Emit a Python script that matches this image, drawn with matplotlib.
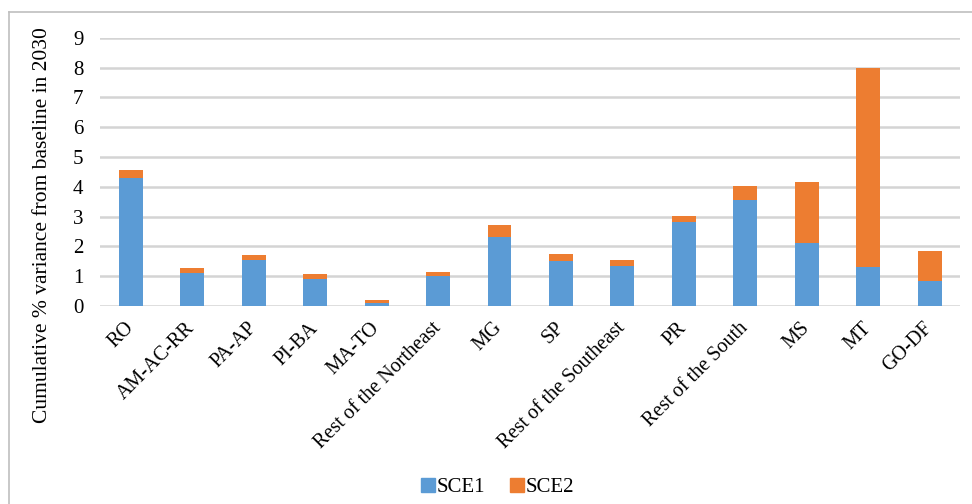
import numpy as np
from matplotlib import pyplot as plt
from matplotlib.lines import Line2D

regions = ["RO", "AM-AC-RR", "PA-AP", "PI-BA", "MA-TO", "Rest of the Northeast",
           "MG", "SP", "Rest of the Southeast", "PR", "Rest of the South",
           "MS", "MT", "GO-DF"]
sce1 = [4.30, 1.10, 1.55, 0.92, 0.10, 1.00, 2.31, 1.50, 1.35, 2.81, 3.57, 2.12, 1.30, 0.85]
sce2 = [0.25, 0.17, 0.17, 0.15, 0.09, 0.15, 0.41, 0.24, 0.19, 0.20, 0.46, 2.05, 6.70, 1.00]
yticks = list(range(0, 10))

blue = "#5b9bd5"
orange = "#ed7d31"

plt.rcParams['font.family'] = ['Liberation Serif', 'DejaVu Serif']

fig = plt.figure(figsize=(9.72, 5.04), dpi=100)
ax = fig.add_axes([0.103, 0.393, 0.885, 0.532])

x = np.arange(len(regions))
ax.bar(x, sce1, width=0.39, color=blue, label="SCE1", zorder=3)
ax.bar(x, sce2, width=0.39, bottom=sce1, color=orange, label="SCE2", zorder=3)

ax.set_xlim(-0.5, len(regions) - 0.5)
ax.set_ylim(0, 9)
ax.set_yticks(yticks)
ax.set_yticklabels([str(t) for t in yticks], fontsize=15)
ax.yaxis.grid(True, color="#d4d4d4", linewidth=1.8, zorder=0)
for s in ax.spines.values():
    s.set_visible(False)
ax.tick_params(axis="both", length=0)
ax.tick_params(axis="y", pad=12)

ax.set_xticks(x)
ax.set_xticklabels(regions, rotation=45, ha="right", va="center",
                   rotation_mode="anchor", fontsize=14.5)
ax.tick_params(axis="x", pad=14)

ax.set_ylabel("Cumulative % variance from baseline in 2030", fontsize=15.5)
ax.yaxis.set_label_coords(-0.056, 0.30)

fig.legend(handles=[plt.Rectangle((0, 0), 1, 1, color=blue),
                    plt.Rectangle((0, 0), 1, 1, color=orange)],
           labels=["SCE1", "SCE2"], loc="center", bbox_to_anchor=(0.512, 0.033),
           ncol=2, frameon=False, fontsize=15, handlelength=0.65, handleheight=0.65,
           handletextpad=0.1, columnspacing=1.2)

# outer frame (left and top edges visible)
fig.add_artist(Line2D([0.0095, 0.0095], [0.0, 0.977], color="#bfbfbf", lw=1.2))
fig.add_artist(Line2D([0.0095, 1.0], [0.977, 0.977], color="#bfbfbf", lw=1.2))

fig.savefig("out.png", dpi=100)
